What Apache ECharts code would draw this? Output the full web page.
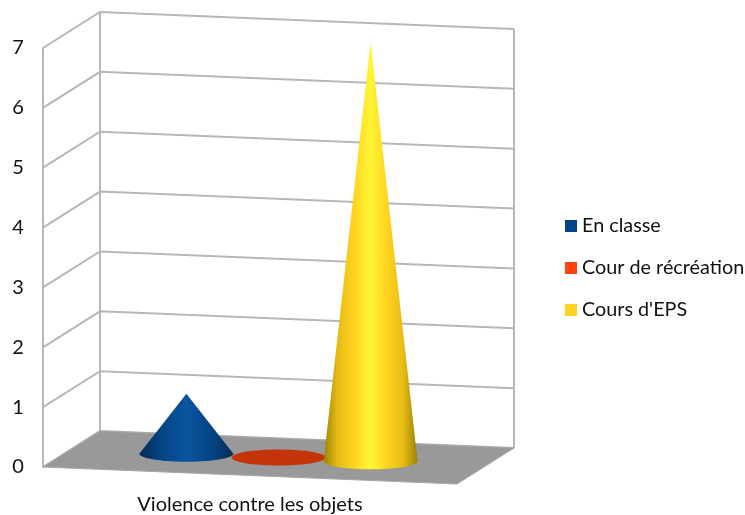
<!DOCTYPE html>
<html><head><meta charset="utf-8">
<style>html,body{margin:0;padding:0;background:#fff}#c{width:745px;height:515px}</style>
<script src="https://cdn.jsdelivr.net/npm/echarts@6/dist/echarts.min.js"></script>
</head><body><div id="c"></div>
<script>
const categories = ["Violence contre les objets"];
const enClasse = [1];
const courRecreation = [0];
const coursEPS = [7];
const yTicks = [0, 1, 2, 3, 4, 5, 6, 7];
const names = ["En classe", "Cour de récréation", "Cours d'EPS"];
const legendColors = ["#004586", "#ff420e", "#ffd320"];

// 3D look: the plot's depth vector and slope, and cone placement, as fractions of the band
const DEPTH = [57, -36], SLOPE = 17 / 414, SPACING = 0.2225, RADIUS = 0.1135, RY = 8;
const FONT = "Lato";
const GRIDC = "#b7b7b7";

const shades = [
  [{o:0,c:"#082a52"},{o:.2,c:"#03427f"},{o:.5,c:"#0b559f"},{o:.8,c:"#03427f"},{o:1,c:"#082a52"}],
  [{o:0,c:"#c4340a"},{o:1,c:"#c4340a"}],
  [{o:0,c:"#9a8208"},{o:.15,c:"#e6bb14"},{o:.32,c:"#ffd320"},{o:.5,c:"#fff535"},{o:.68,c:"#ffd320"},{o:.85,c:"#e6bb14"},{o:1,c:"#9a8208"}]
];

function gradient(stops){
  return {type:"linear",x:0,y:0,x2:1,y2:0,colorStops:stops.map(s=>({offset:s.o,color:s.c}))};
}

function coneItem(idx){
  return function(params, api){
    const band = api.size([1,0])[0];
    const top = api.coord([0, api.value(1)]);
    const zero = api.coord([0, 0]);
    const off = (idx-1)*SPACING*band;
    const cx = top[0] + off + DEPTH[0]/2;
    const by = zero[1] + off*SLOPE + DEPTH[1]/2 + band/2*SLOPE;
    const rx = RADIUS*band;
    const tipY = by - (zero[1]-top[1]);
    if (api.value(1) === 0) {
      return {type:"ellipse", shape:{cx, cy:by, rx, ry:RY}, style:{fill:"#c4340a"}};
    }
    const pts = [[cx, tipY]];
    for (let i=0;i<=48;i++){
      const a = Math.PI*i/48;
      pts.push([cx + rx*Math.cos(a), by + RY*Math.sin(a)]);
    }
    return {type:"polygon", shape:{points:pts}, style:{fill: gradient(shades[idx])}};
  };
}

function wallItem(params, api){
  const band = api.size([1,0])[0];
  const p = api.coord([0, api.value(0)]);
  const x0 = p[0]-band/2, y0 = p[1];
  const lineStyle = {stroke:GRIDC, lineWidth:2, fill:null};
  return {type:"polyline", shape:{points:[[x0,y0],[x0+DEPTH[0],y0+DEPTH[1]],[x0+DEPTH[0]+band,y0+DEPTH[1]+band*SLOPE]]}, style:lineStyle};
}

function frameItem(params, api){
  const band = api.size([1,0])[0];
  const p0 = api.coord([0, 0]);
  const p7 = api.coord([0, yTicks[yTicks.length-1]]);
  const x0 = p0[0]-band/2;
  const s = {stroke:GRIDC, lineWidth:2, fill:null};
  const f = (x,y,u)=>[x+DEPTH[0]+u*band, y+DEPTH[1]+u*band*SLOPE];
  return {type:"group", children:[
    {type:"polyline", shape:{points:[f(x0,p0[1],0),f(x0,p7[1],0)]}, style:s},
    {type:"polyline", shape:{points:[f(x0,p0[1],1),f(x0,p7[1],1)]}, style:s},
    {type:"polygon", shape:{points:[[x0,p0[1]],f(x0,p0[1],0),f(x0,p0[1],1),[x0+band,p0[1]+band*SLOPE]]}, style:{fill:"#999999",stroke:"#a6a6a6",lineWidth:1}}
  ]};
}

const chart = echarts.init(document.getElementById("c"), null, {renderer:"canvas"});
const series = [
  {type:"custom", name:"walls", renderItem:wallItem, data:yTicks.map(v=>[v]), encode:{y:0}, silent:true, z:1, clip:false},
  {type:"custom", name:"frame", renderItem:frameItem, data:[[0]], encode:{y:0}, silent:true, z:2, clip:false},
  {type:"custom", name:names[0], renderItem:coneItem(0), data:[[0,enClasse[0]]], encode:{x:0,y:1}, itemStyle:{color:legendColors[0]}, z:3, clip:false},
  {type:"custom", name:names[1], renderItem:coneItem(1), data:[[0,courRecreation[0]]], encode:{x:0,y:1}, itemStyle:{color:legendColors[1]}, z:3, clip:false},
  {type:"custom", name:names[2], renderItem:coneItem(2), data:[[0,coursEPS[0]]], encode:{x:0,y:1}, itemStyle:{color:legendColors[2]}, z:4, clip:false}
];
chart.setOption({
  animation:false,
  backgroundColor:"#fff",
  textStyle:{fontFamily:FONT},
  legend:{
    data:names, orient:"vertical", left:560, top:211, padding:5,
    icon:"rect", itemWidth:12, itemHeight:12, itemGap:22, selectedMode:false,
    textStyle:{fontFamily:FONT, fontSize:19.8, lineHeight:20, color:"#111"}
  },
  grid:{left:43, right:288, top:48, bottom:48, containLabel:false},
  xAxis:{type:"category", data:categories, axisLine:{show:false}, axisTick:{show:false},
    axisLabel:{margin:28, fontFamily:FONT, fontSize:20, color:"#111"}},
  yAxis:{type:"value", min:0, max:7, interval:1, splitLine:{show:false}, axisTick:{show:false},
    axisLine:{show:true, lineStyle:{color:GRIDC, width:2}},
    axisLabel:{margin:25, fontFamily:FONT, fontSize:20, color:"#111", align:"center", padding:[3,0,0,0]}},
  series
});
</script></body></html>
